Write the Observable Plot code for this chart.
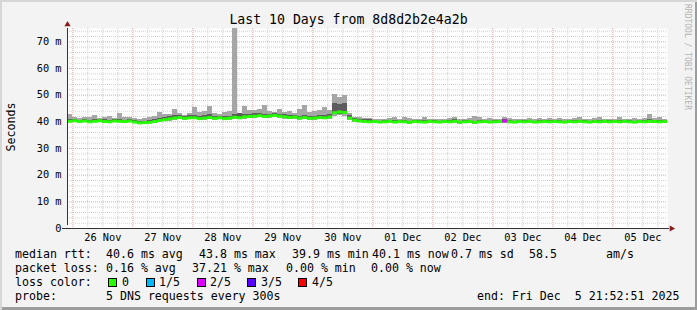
<!DOCTYPE html>
<html>
<head>
<meta charset="utf-8">
<script src="https://cdn.jsdelivr.net/npm/d3@7"></script>
<script src="https://cdn.jsdelivr.net/npm/@observablehq/plot@0.6"></script>
<style>
  html, body { margin: 0; padding: 0; background: #f3f3f3; }
  #wrap { position: relative; width: 697px; height: 310px; background: #f3f3f3; overflow: hidden;
          font-family: "DejaVu Sans Mono", monospace; color: #000;
          box-shadow: inset 2px 2px 0 #d6d6d6, inset -2px -3px 0 #9c9c9c; }
  .t { position: absolute; white-space: pre; font-size: 11.6px; line-height: 14px; }
  .box { position: absolute; width: 7px; height: 7px; border: 1px solid #000; }
</style>
</head>
<body>
<div id="wrap"></div>
<script>
// ---------- data (2-hour steps from 25 Nov 22:00 UTC) ----------
const title = "Last 10 Days from 8d8d2b2e4a2b";
const yLabel = "Seconds";
const yTicks = [0, 10, 20, 30, 40, 50, 60, 70];
const dayTicks = ["2025-11-26T12:00Z","2025-11-27T12:00Z","2025-11-28T12:00Z","2025-11-29T12:00Z","2025-11-30T12:00Z",
                  "2025-12-01T12:00Z","2025-12-02T12:00Z","2025-12-03T12:00Z","2025-12-04T12:00Z","2025-12-05T12:00Z"];

const med = [
  40.2,40.4,40.1,40.3,40.0,40.2,40.4,40.1,40.0,40.3,40.2,40.1,40.3,
  39.9,39.6,39.7,39.8,40.1,40.5,40.8,41.1,41.4,41.6,41.3,41.5,
  41.5,41.2,41.4,41.6,41.3,41.5,41.2,41.4,41.7,41.5,41.9,42.0,
  42.1,42.3,42.0,42.2,42.4,42.1,41.9,41.6,41.8,41.4,41.6,41.3,
  41.4,41.6,41.5,41.8,43.4,43.7,43.5,41.4,40.6,40.3,40.1,40.0,
  40.1,39.9,40.0,40.2,39.9,40.1,40.0,39.8,40.1,40.0,39.9,40.2,
  40.0,39.9,40.1,40.0,40.2,39.9,40.0,40.1,39.8,40.0,40.1,39.9,
  40.0,40.1,40.3,40.0,39.9,40.1,40.0,40.2,39.9,40.0,40.1,40.0,
  40.1,40.0,39.9,40.1,40.0,40.2,40.0,39.9,40.1,40.0,40.2,40.0,
  40.1,40.0,40.2,40.0,39.9,40.1,40.0,40.2,40.1,40.0,40.1
];
const pingMax = [
  42.8,41.6,41.2,41.8,41.5,42.2,41.4,41.6,41.9,41.3,43.2,41.8,41.5,
  41.2,41.0,41.4,41.6,42.0,43.4,42.6,42.8,44.5,43.2,42.4,43.0,
  45.3,43.5,44.0,45.7,43.2,42.8,43.5,43.9,75.2,43.0,45.7,44.2,
  44.2,44.5,46.0,44.0,43.6,44.8,43.5,44.0,43.2,44.6,46.0,43.4,
  43.8,44.2,45.5,44.2,50.4,49.2,50.0,43.0,41.8,41.5,41.2,41.4,
  40.9,40.8,41.0,41.1,41.5,40.9,41.6,41.4,40.8,41.0,41.5,40.9,
  40.8,41.0,40.7,41.2,41.7,40.9,41.0,41.2,42.0,41.5,40.9,41.1,
  41.0,40.9,41.7,41.2,40.8,41.0,40.9,41.3,40.8,41.1,41.0,41.4,
  41.0,41.3,40.9,41.0,41.2,41.7,41.0,40.9,41.1,41.8,41.0,40.9,
  41.0,41.6,41.0,40.9,41.1,41.0,41.3,42.7,41.2,41.8,41.0
];
const pingHigh = [
  40.9,41.0,40.6,40.8,40.5,40.7,41.0,40.7,40.6,40.8,40.9,40.6,40.8,
  40.5,40.2,40.3,40.4,40.8,41.4,41.6,41.9,42.4,42.3,42.0,42.2,
  42.3,42.0,42.2,42.6,42.0,42.1,41.9,42.1,42.8,43.0,42.9,42.8,
  43.0,43.2,42.8,42.9,43.1,42.8,42.6,42.3,42.5,42.1,42.3,42.0,
  42.1,42.4,42.3,42.6,46.8,46.5,46.9,42.2,41.2,40.9,40.7,40.8,
  40.5,40.3,40.4,40.6,40.4,40.5,40.5,40.2,40.5,40.4,40.4,40.6,
  40.4,40.3,40.5,40.4,40.7,40.3,40.4,40.5,40.3,40.4,40.5,40.3,
  40.4,40.5,40.9,40.4,40.3,40.5,40.4,40.6,40.3,40.4,40.5,40.4,
  40.5,40.4,40.3,40.5,40.4,40.6,40.4,40.3,40.5,40.5,40.6,40.4,
  40.5,40.4,40.6,40.4,40.3,40.5,40.4,40.7,40.5,40.4,40.5
];
const pingLow = [
  39.9,40.1,39.8,40.0,39.8,39.9,40.1,39.8,39.7,40.0,39.9,39.8,40.0,
  39.6,39.3,39.4,39.5,39.8,40.2,40.4,40.7,41.0,41.2,40.9,41.1,
  41.1,40.8,41.0,41.2,40.9,41.1,40.8,41.0,41.3,41.1,41.5,41.5,
  41.7,41.9,41.6,41.8,41.9,41.7,41.5,41.2,41.4,41.0,41.2,40.9,
  41.0,41.2,41.1,41.4,42.6,42.9,42.7,40.9,40.2,39.9,39.8,39.7,
  39.8,39.6,39.7,39.9,39.6,39.8,39.7,39.5,39.8,39.7,39.6,39.9,
  39.7,39.6,39.8,39.7,39.9,39.6,39.7,39.8,39.5,39.7,39.8,39.6,
  39.7,39.8,39.9,39.7,39.6,39.8,39.7,39.9,39.6,39.7,39.8,39.7,
  39.8,39.7,39.6,39.8,39.7,39.9,39.7,39.6,39.8,39.7,39.9,39.7,
  39.8,39.7,39.9,39.7,39.6,39.8,39.7,39.9,39.8,39.7,39.8
];
const pingMin = [
  39.6,39.8,39.5,39.7,39.5,39.6,39.8,39.5,39.4,39.7,39.6,39.5,39.7,
  39.3,39.0,39.1,39.2,39.5,39.9,40.0,40.3,40.6,40.8,40.5,40.7,
  40.7,40.4,40.6,40.8,40.5,40.7,40.4,40.6,40.9,40.7,41.0,41.1,
  41.2,41.5,41.2,41.4,41.5,41.3,41.0,40.8,41.0,40.6,40.8,40.5,
  40.6,40.8,40.7,41.0,42.0,42.2,42.0,40.4,39.8,39.6,39.5,39.4,
  39.4,39.2,39.3,39.5,39.2,39.4,39.3,39.1,39.4,39.3,39.2,39.5,
  39.3,39.2,39.4,39.3,39.5,39.1,39.3,39.4,39.0,39.3,39.4,39.2,
  39.3,39.4,39.5,39.3,39.2,39.4,39.3,39.5,39.2,39.3,39.4,39.3,
  39.4,39.3,39.2,39.4,39.3,39.5,39.3,39.2,39.4,39.3,39.5,39.3,
  39.4,39.3,39.5,39.3,39.2,39.4,39.3,39.5,39.4,39.3,39.4
];
// steps with packet loss (index into the series) and their loss level (n of 5)
const lossSteps = [87];
const lossLevels = [2];
const lossNames = ["0", "1/5", "2/5", "3/5", "4/5"];
const lossColors = ["#26ff00", "#00b8ff", "#e000ff", "#5a00ff", "#ff0000"];

const legend1 = [[16,"median rtt:"],[107,"40.6 ms avg"],[200,"43.8 ms max"],[293,"39.9 ms min"],[373,"40.1 ms now"],[452,"0.7 ms sd"],[530,"58.5"],[607,"am/s"]];
const legend2 = [[16,"packet loss:"],[107,"0.16 % avg"],[193,"37.21 % max"],[287,"0.00 % min"],[372,"0.00 % now"]];
const legend3Label = "loss color:";
const legend4 = [[16,"probe:"],[107,"5 DNS requests every 300s"],[478,"end: Fri Dec  5 21:52:51 2025"]];
const watermark = "RRDTOOL / TOBI OETIKER";

// ---------- build ----------
const start = new Date(Date.UTC(2025, 10, 25, 21, 52, 51));
const end = new Date(Date.UTC(2025, 11, 5, 21, 52, 51));
const t0 = Date.UTC(2025, 10, 25, 22, 0, 0);
const step = 2 * 3600 * 1000;
const loss = med.map(() => 0);
lossSteps.forEach((s, k) => loss[s] = lossLevels[k]);
const rows = med.map((m, i) => ({
  a: new Date(t0 + i * step), b: new Date(t0 + (i + 1) * step),
  med: m, mn: pingMin[i], lo: pingLow[i], hi: pingHigh[i], mx: pingMax[i], loss: loss[i]
}));

const majorX = d3.utcDay.range(start, end);
const minorX = d3.utcHour.every(6).range(start, end).filter(d => d.getUTCHours() !== 0);
const majorY = yTicks.filter(v => v > 0);
const minorY = d3.range(2, 76, 2).filter(v => v % 10 !== 0);

const chart = Plot.plot({
  width: 697, height: 250,
  marginLeft: 67, marginRight: 30, marginTop: 28, marginBottom: 22,
  style: { background: "transparent", fontFamily: "DejaVu Sans Mono", fontSize: "10.3px", color: "#000", overflow: "visible" },
  x: { type: "utc", domain: [start, end] },
  y: { domain: [0, 75] },
  marks: [
    Plot.frame({ fill: "white", stroke: null }),
    Plot.ruleY(minorY, { stroke: "#cfcfcf", strokeDasharray: "1,1" }),
    Plot.ruleX(minorX, { stroke: "#cfcfcf", strokeDasharray: "1,1" }),
    Plot.ruleY(majorY, { stroke: "#eba5a5", strokeDasharray: "1,1" }),
    Plot.ruleX(majorX, { stroke: "#eba5a5", strokeDasharray: "1,1" }),
    Plot.rect(rows, { x1: "a", x2: "b", y1: "mn", y2: "mx", fill: "#a6a6a6", shapeRendering: "crispEdges", clip: true }),
    Plot.rect(rows, { x1: "a", x2: "b", y1: "lo", y2: "hi", fill: "#5c5c5c", shapeRendering: "crispEdges", clip: true }),
    Plot.ruleY(rows, { y: "med", x1: "a", x2: "b", stroke: d => lossColors[d.loss], strokeWidth: 3, clip: true }),
    Plot.axisY({ ticks: yTicks, tickFormat: v => v === 0 ? "0" : `${v} m`, tickSize: 0, tickPadding: 6, label: null }),
    Plot.axisX({ ticks: dayTicks.map(s => new Date(s)), tickFormat: d3.utcFormat("%d %b"), tickSize: 0, tickPadding: 5, label: null }),
    Plot.ruleX([start], { y1: 0, y2: 75, insetTop: -3, stroke: "#333" }),
    Plot.ruleY([0], { x1: () => start, x2: () => end, insetLeft: -5, insetRight: -2, stroke: "#333" }),
    Plot.dot([0], { x: () => start, y: () => 75, dy: -4, symbol: "triangle", r: 2.3, fill: "#8b1a1a", stroke: null }),
    Plot.dot([0], { x: () => end, y: () => 0, dx: 4, rotate: 90, symbol: "triangle", r: 2.3, fill: "#8b1a1a", stroke: null })
  ]
});

const wrap = document.getElementById("wrap");
chart.style.position = "absolute";
chart.style.left = "0px";
chart.style.top = "0px";
wrap.appendChild(chart);

function addText(x, top, text, extra) {
  const s = document.createElement("div");
  s.className = "t";
  s.style.left = x + "px";
  s.style.top = top + "px";
  s.textContent = text;
  if (extra) Object.assign(s.style, extra);
  wrap.appendChild(s);
  return s;
}
// title
addText(0, 12, title, { width: "697px", textAlign: "center", fontSize: "13.2px", lineHeight: "15px", left: "0px" });
// y label
addText(-19, 120, yLabel, { width: "60px", textAlign: "center", transform: "rotate(-90deg)" });
// watermark
addText(683, 4, watermark, { writingMode: "vertical-rl", fontSize: "8px", lineHeight: "9px", color: "#b4b4b4" });
// legend
const rowTops = [247, 261, 275, 288.5];
legend1.forEach(([x, s]) => addText(x - 1, rowTops[0], s));
legend2.forEach(([x, s]) => addText(x - 1, rowTops[1], s));
addText(15, rowTops[2], legend3Label);
const boxX = [108, 146, 197, 247, 298];
const labX = [123, 160, 211, 262, 313];
lossNames.forEach((n, k) => {
  const b = document.createElement("div");
  b.className = "box";
  b.style.left = boxX[k] + "px";
  b.style.top = "278px";
  b.style.background = lossColors[k];
  wrap.appendChild(b);
  addText(labX[k] - 1, rowTops[2], n);
});
legend4.forEach(([x, s]) => addText(x - 1, rowTops[3], s));
</script>
</body>
</html>
